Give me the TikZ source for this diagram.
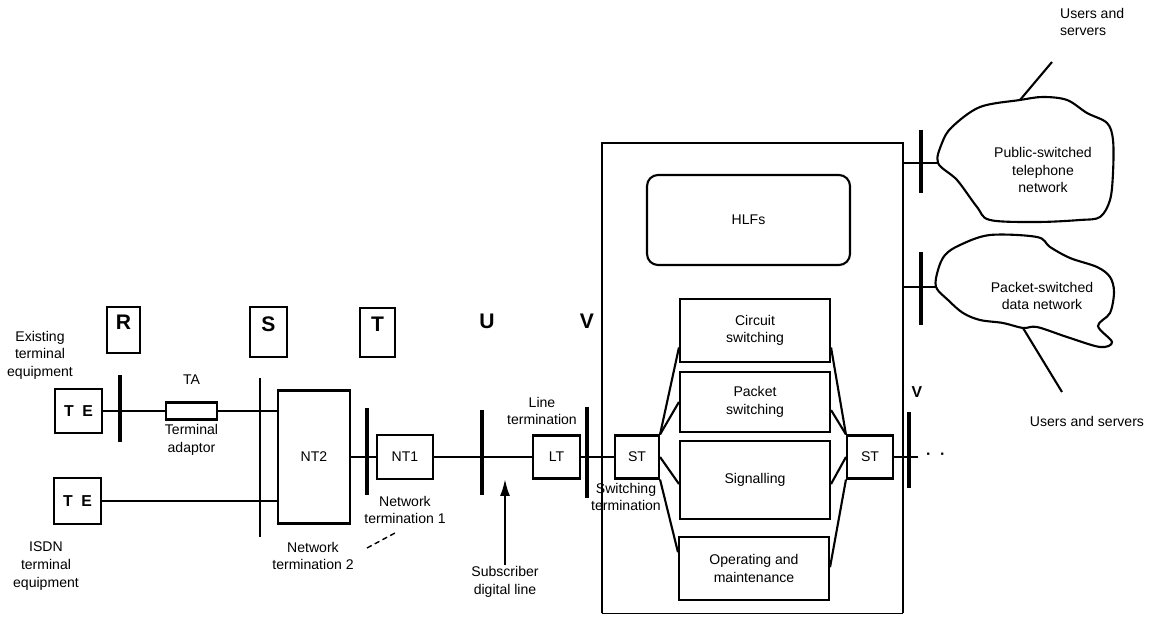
\documentclass[tikz,border=0pt]{standalone}
\usepackage{fontspec}
\setmainfont{Liberation Sans}
\usetikzlibrary{arrows.meta,positioning,calc}

\begin{document}
\begin{tikzpicture}[
  x=0.02cm, y=-0.02cm,
  font=\fontsize{8}{10}\selectfont,
  >={Latex[length=3.4mm,width=2mm]},
  unit/.style={
    draw, line width=1.2pt, inner sep=0pt, align=center
  },
  refbox/.style={
    draw, line width=1.2pt, inner xsep=0pt, inner ysep=0.15cm,
    text height=0.3cm, text depth=0.32cm,
    font=\fontsize{12}{14}\selectfont\bfseries
  },
  refletter/.style={font=\fontsize{12}{14}\selectfont\bfseries},
  tebox/.style={unit, minimum width=0.94cm, minimum height=0.88cm,
    font=\fontsize{9}{11}\selectfont\bfseries},
  fnbox/.style={unit, minimum width=3cm},
  lbl/.style={align=center, inner sep=1pt},
  wire/.style={line width=1.2pt},
  refbar/.style={line width=1.8pt},
  netcloud/.style={line width=1.2pt}
]

\useasboundingbox (0,0) rectangle (1150,617);

% Reference points
\node[refbox, minimum width=0.66cm] (refR) at (123.5,330) {R};
\node[refbox, minimum width=0.74cm, minimum height=1cm] (refS) at (268.5,332) {S};
\node[refbox, minimum width=0.70cm, minimum height=0.98cm] (refT) at (377.5,332.5) {T};
\node[refletter] (refU) at (487,321) {U};
\node[refletter] (refV) at (587,321) {V};

% Reference point bars
\foreach \x/\ya/\yb in {120/375/442, 367/408/495, 482/410/495, 587/407/498,
                         909/412/488, 921/130/193, 921/252/325} {
  \draw[refbar] (\x,\ya) -- (\x,\yb);
}
\draw[line width=0.7pt] (260,378) -- (260,537);

% ===== Subscriber side =====
\node[tebox] (te1) at (78.5,411) {T\ \ E};
\node[tebox, minimum height=0.92cm] (te2) at (77.5,501) {T\ \ E};
\node[unit, minimum width=1.02cm, minimum height=0.34cm] (ta) at (191.5,411) {};
\node[unit, minimum width=1.44cm, minimum height=2.66cm] (nt2) at (314,457) {NT2};
\node[unit, minimum width=1.12cm, minimum height=0.88cm] (nt1) at (405,457) {NT1};
\node[unit, minimum width=0.94cm, minimum height=0.86cm] (lt) at (556.5,457) {LT};

\node[lbl] (exist) at (40,355) {Existing\\terminal\\equipment};
\node[lbl] (isdn) at (46,566) {ISDN\\terminal\\equipment};
\node[lbl, above=0.3cm of ta] (talbl) {TA};
\node[lbl, below=1pt of ta] (tadesc) {Terminal\\adaptor};
\node[lbl] (nt2lbl) at (313,556) {Network\\termination 2};
\node[lbl] (nt1lbl) at (405,510) {Network\\termination 1};
\node[lbl] (ltlbl) at (542,411) {Line\\termination};
\node[lbl] (sdl) at (505,582) {Subscriber\\digital line};

\coordinate (dashA) at (367,548);
\coordinate (dashB) at (395,533);
\draw[densely dashed, line width=0.8pt] (dashA) -- (dashB);

\draw[wire] (te1) -- (ta);
\draw[wire] (ta) -- (ta -| nt2.west);
\draw[wire] (te2) -- (te2 -| nt2.west);
\draw[wire] (nt2) -- (nt1);
\draw[wire] (nt1) -- (lt);

\coordinate (sdltip) at (505,479);
\draw[wire, ->] (sdl.north) -- (sdltip);

% ===== Local exchange =====
\node[minimum width=6.02cm, minimum height=9.4cm, inner sep=0pt] (exch) at (752.5,378) {};
\draw[wire] (exch.south west) -- (exch.north west) -- (exch.north east) -- (exch.south east);
\draw[line width=0.5pt] (exch.south west) -- (exch.south east);

\node[unit, rounded corners=0.22cm, minimum width=4.06cm, minimum height=1.8cm] (hlf) at (748.5,220) {HLFs};
\node[fnbox, minimum height=1.26cm] (circ) at (755,330.5) {Circuit\\switching};
\node[fnbox, minimum height=1.2cm] (pkt) at (755,402) {Packet\\switching};
\node[fnbox, minimum height=1.56cm] (sig) at (755,480) {Signalling};
\node[fnbox, minimum height=1.26cm] (om) at (754,568.5) {Operating and\\maintenance};

\node[unit, minimum width=0.88cm, minimum height=0.86cm] (stl) at (637,457) {ST};
\node[unit, minimum width=0.92cm, minimum height=0.86cm] (str) at (870,457) {ST};
\node[lbl] (stlbl) at (626,497) {Switching\\termination};

\draw[wire] (lt) -- (stl);

% fan out from ST to the functions
\draw[wire] (stl.north east) -- ($(circ.south west)!0.24!(circ.north west)$);
\draw[wire] (stl.north east) -- (pkt.west);
\draw[wire] (stl.east) -- ($(sig.north west)!0.55!(sig.south west)$);
\draw[wire] (stl.south east) -- ($(om.north west)!0.25!(om.south west)$);
\draw[wire] (str.north west) -- ($(circ.south east)!0.24!(circ.north east)$);
\draw[wire] (str.north west) -- ($(pkt.north east)!0.63!(pkt.south east)$);
\draw[wire] (str.west) -- ($(sig.north east)!0.55!(sig.south east)$);
\draw[wire] (str.south west) -- ($(om.north east)!0.48!(om.south east)$);

% Onward V interface
\node[lbl, font=\fontsize{9}{11}\selectfont\bfseries] (refV2) at (917,392) {V};
\coordinate (vend) at (918,457);
\draw[wire] (str) -- (vend);
\node[lbl, anchor=west, font=\fontsize{9}{11}\selectfont\bfseries] (more) at (924,456) {·\ \ ·};

% ===== Other networks =====
\coordinate (pstnin) at (938,163);
\draw[wire] (exch.east |- pstnin) -- (pstnin);
\draw[netcloud] plot[smooth cycle, tension=0.55] coordinates {
  (938,163) (942,143) (952,127) (980,107) (1020,100) (1043,97) (1067,100)
  (1087,113) (1107,123) (1113,140) (1113,173) (1110,200) (1100,217)
  (1080,220) (1037,222) (990,220) (977,207) (957,180)};
\node[lbl] (pstn) at (1043,170) {Public-switched\\telephone\\network};
\coordinate (pstntop) at (1020,100);
\coordinate (usr1end) at (1052,62);
\draw[wire] (pstntop) -- (usr1end);
\node[lbl, anchor=west, align=left] (usr1) at (1058,22) {Users and\\servers};

\coordinate (psdnin) at (936,287);
\draw[wire] (exch.east |- psdnin) -- (psdnin);
\draw[netcloud] plot[smooth cycle, tension=0.55] coordinates {
  (936,287) (938,270) (945,255) (960,245) (990,235) (1037,237) (1050,247)
  (1070,258) (1097,267) (1110,277) (1114,292) (1110,313) (1098,326)
  (1112,342) (1100,347) (1067,337) (1037,327) (1023,328) (1003,323)
  (980,320) (963,313) (948,300)};
\node[lbl] (psdn) at (1042,296) {Packet-switched\\data network};
\coordinate (psdnbot) at (1023,328);
\coordinate (usr2end) at (1062,392);
\draw[wire] (psdnbot) -- (usr2end);
\node[lbl] (usr2) at (1087,421) {Users and servers};

\end{tikzpicture}
\end{document}
